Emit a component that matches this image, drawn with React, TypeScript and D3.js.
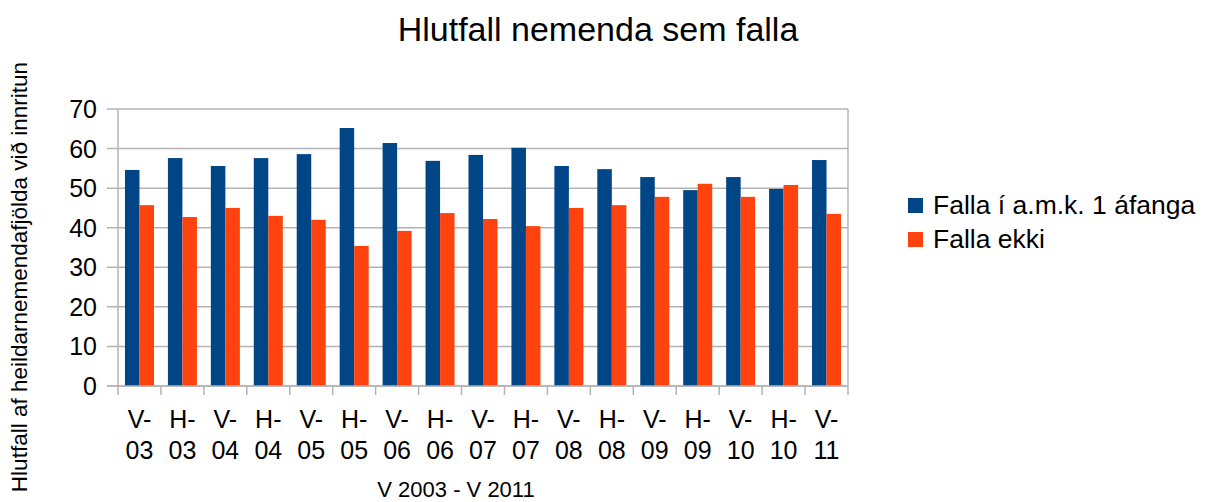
import React from 'react';
import * as d3 from 'd3';

const categories = ['V-03', 'H-03', 'V-04', 'H-04', 'V-05', 'H-05', 'V-06', 'H-06', 'V-07', 'H-07', 'V-08', 'H-08', 'V-09', 'H-09', 'V-10', 'H-10', 'V-11'];
const fallaAmk = [54.6, 57.6, 55.6, 57.6, 58.6, 65.2, 61.4, 56.9, 58.4, 60.2, 55.6, 54.8, 52.8, 49.5, 52.8, 49.8, 57.1];
const fallaEkki = [45.7, 42.7, 45.0, 43.0, 42.0, 35.4, 39.2, 43.7, 42.2, 40.4, 45.0, 45.7, 47.8, 51.1, 47.8, 50.8, 43.5];
const seriesNames = ['Falla í a.m.k. 1 áfanga', 'Falla ekki'];
const seriesColors = ['#004586', '#ff420e'];
const yTicks = [0, 10, 20, 30, 40, 50, 60, 70];

const W = 1208;
const H = 502;
const left = 118;
const right = 848;
const top = 109;
const bottom = 386;
const font = '"Liberation Sans", Arial, sans-serif';

export default function App() {
  const x0 = d3.scaleBand<string>().domain(categories).range([left, right]).padding(0);
  const x1 = d3
    .scaleBand<number>()
    .domain([0, 1])
    .range([0, x0.bandwidth()])
    .paddingInner(0)
    .paddingOuter(0.48);
  const y = d3.scaleLinear().domain([0, 70]).range([bottom, top]);
  const series = [fallaAmk, fallaEkki];

  return (
    <svg width={W} height={H} style={{ position: 'absolute', left: 0, top: 0, background: '#fff' }} fontFamily={font}>
      <text x={598} y={41} textAnchor="middle" fontSize={34}>
        Hlutfall nemenda sem falla
      </text>

      {/* grid */}
      {yTicks.map(t => (
        <g key={t}>
          <line x1={left - 11} x2={right} y1={y(t)} y2={y(t)} stroke="#b3b3b3" strokeWidth={1.5} />
          <text x={97} y={y(t) + 9} textAnchor="end" fontSize={25}>
            {t}
          </text>
        </g>
      ))}
      <line x1={left} x2={left} y1={top} y2={bottom} stroke="#b3b3b3" strokeWidth={1.5} />
      <line x1={right} x2={right} y1={top} y2={bottom} stroke="#b3b3b3" strokeWidth={1.5} />

      {/* bars */}
      {categories.map((c, i) => (
        <g key={c} transform={`translate(${x0(c)},0)`}>
          {series.map((s, k) => (
            <rect
              key={k}
              x={x1(k)}
              y={y(s[i])}
              width={x1.bandwidth()}
              height={y(0) - y(s[i])}
              fill={seriesColors[k]}
            />
          ))}
        </g>
      ))}

      {/* x axis */}
      <line x1={left - 11} x2={right} y1={bottom} y2={bottom} stroke="#b3b3b3" strokeWidth={1.5} />
      {categories.map((c, i) => (
        <line
          key={'t' + i}
          x1={x0(c)}
          x2={x0(c)}
          y1={bottom}
          y2={bottom + 9}
          stroke="#b3b3b3"
          strokeWidth={1.5}
        />
      ))}
      <line x1={right} x2={right} y1={bottom} y2={bottom + 9} stroke="#b3b3b3" strokeWidth={1.5} />
      {categories.map(c => {
        const [a, b] = c.split('-');
        const cx = (x0(c) as number) + x0.bandwidth() / 2;
        return (
          <text key={'l' + c} x={cx} textAnchor="middle" fontSize={25}>
            <tspan x={cx} y={428}>{a + '-'}</tspan>
            <tspan x={cx} y={459}>{b}</tspan>
          </text>
        );
      })}

      <text x={456} y={497} textAnchor="middle" fontSize={22}>
        V 2003 - V 2011
      </text>
      <text transform="translate(27,277) rotate(-90)" textAnchor="middle" fontSize={22.5}>
        Hlutfall af heildarnemendafjölda við innritun
      </text>

      {/* legend */}
      {seriesNames.map((n, k) => (
        <g key={n} transform={`translate(908,${198 + k * 34})`}>
          <rect x={0} y={0} width={15} height={15} fill={seriesColors[k]} />
          <text x={25} y={16} fontSize={26.5}>
            {n}
          </text>
        </g>
      ))}
    </svg>
  );
}
